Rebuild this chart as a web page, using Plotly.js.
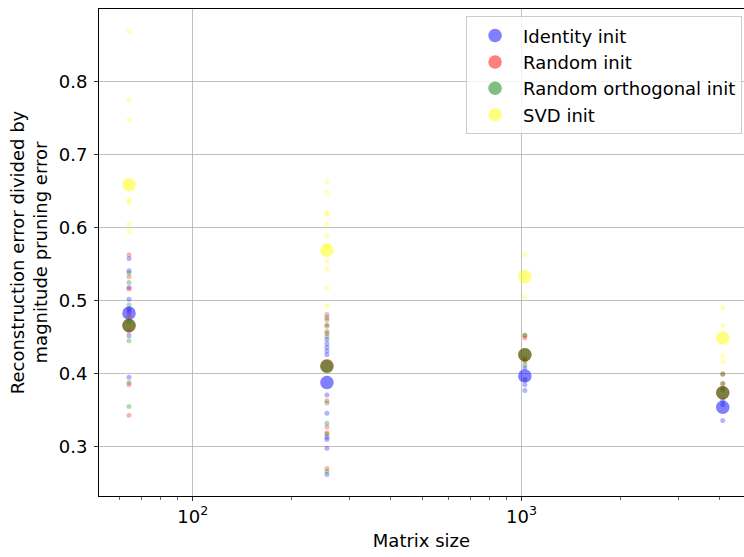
<!DOCTYPE html>
<html>
<head>
<meta charset="utf-8">
<script src="https://cdn.plot.ly/plotly-3.0.1.min.js"></script>
<style>html,body{margin:0;padding:0;background:#fff;}#chart{width:744px;height:557px;}</style>
</head>
<body>
<div id="chart"></div>
<script>
// Matrix sizes (x positions)
const sizes = [64, 256, 1024, 4096];
const seriesNames = ["Identity init", "Random init", "Random orthogonal init", "SVD init"];

// Individual runs per matrix size
const identityRuns = [
  [0.558, 0.541, 0.518, 0.502, 0.489, 0.485, 0.452, 0.395],
  [0.447, 0.441, 0.436, 0.431, 0.426, 0.371, 0.346, 0.313, 0.310, 0.298, 0.262],
  [0.408, 0.392, 0.385, 0.377],
  [0.364, 0.358, 0.336]
];
const randomRuns = [
  [0.563, 0.533, 0.516, 0.479, 0.458, 0.385, 0.343],
  [0.481, 0.474, 0.465, 0.455, 0.363, 0.327, 0.319, 0.270],
  [0.452, 0.449, 0.421, 0.417],
  [0.400, 0.386, 0.380]
];
const orthogonalRuns = [
  [0.538, 0.525, 0.494, 0.472, 0.445, 0.388, 0.355],
  [0.477, 0.467, 0.458, 0.451, 0.360, 0.332, 0.317, 0.266],
  [0.453, 0.419, 0.412],
  [0.399, 0.387, 0.378]
];
const svdRuns = [
  [0.869, 0.775, 0.748, 0.638, 0.634, 0.605, 0.595],
  [0.663, 0.648, 0.621, 0.618, 0.605, 0.589, 0.576, 0.555, 0.543, 0.517, 0.493],
  [0.563, 0.505],
  [0.490, 0.466, 0.425, 0.416]
];

// Mean values per matrix size (large markers)
const identityMean = [0.483, 0.388, 0.397, 0.354];
const randomMean = [0.466, 0.411, 0.426, 0.374];
const orthogonalMean = [0.466, 0.410, 0.426, 0.374];
const svdMean = [0.659, 0.569, 0.533, 0.449];

// Tick labels
const xTickVals = [100, 1000];
const xTickText = ["10<sup>2</sup>", "10<sup>3</sup>"];
const xMinorVals = [60, 70, 80, 90, 200, 300, 400, 500, 600, 700, 800, 900, 2000, 3000, 4000];
const yTickVals = [0.3, 0.4, 0.5, 0.6, 0.7, 0.8];

const runsList = [identityRuns, randomRuns, orthogonalRuns, svdRuns];
const meanList = [identityMean, randomMean, orthogonalMean, svdMean];
const colors = ["rgb(0,0,255)", "rgb(255,0,0)", "rgb(0,128,0)", "rgb(255,255,0)"];

const traces = [];
for (let s = 0; s < seriesNames.length; s++) {
  const xs = [], ys = [];
  runsList[s].forEach((vals, i) => vals.forEach(v => { xs.push(sizes[i]); ys.push(v); }));
  traces.push({
    type: "scatter", mode: "markers", x: xs, y: ys,
    legendgroup: "g" + s, showlegend: false, hoverinfo: "skip",
    marker: {color: colors[s], opacity: 0.3, size: 5, line: {width: 0}}
  });
  traces.push({
    type: "scatter", mode: "markers", x: sizes, y: meanList[s],
    name: seriesNames[s], legendgroup: "g" + s, showlegend: true,
    marker: {color: colors[s], opacity: 0.5, size: 13.5, line: {width: 0}}
  });
}

const font = {family: "DejaVu Sans, sans-serif", size: 18, color: "#000"};
const layout = {
  width: 744, height: 557,
  margin: {l: 98.5, r: 0, t: 9, b: 61, pad: 0},
  paper_bgcolor: "#fff", plot_bgcolor: "#fff",
  font: font,
  showlegend: true,
  xaxis: {
    type: "log",
    range: [1.7149, 3.677],
    tickmode: "array", tickvals: xTickVals, ticktext: xTickText,
    ticks: "outside", ticklen: 4, tickwidth: 0.8, tickcolor: "#000",
    showgrid: true, gridcolor: "#b0b0b0", gridwidth: 0.8,
    zeroline: false,
    showline: true, linecolor: "#000", linewidth: 1, mirror: true,
    minor: {tickmode: "array", tickvals: xMinorVals, ticks: "outside", ticklen: 2.5, tickwidth: 0.6, tickcolor: "#000", showgrid: false},
    tickfont: font,
    title: {text: "Matrix size", font: font, standoff: 8},
    automargin: false
  },
  yaxis: {
    range: [0.2325, 0.8996],
    tickmode: "array", tickvals: yTickVals, tickformat: ".1f",
    ticks: "outside", ticklen: 4, tickwidth: 0.8, tickcolor: "#000",
    ticklabelstandoff: 3,
    showgrid: true, gridcolor: "#b0b0b0", gridwidth: 0.8,
    zeroline: false,
    showline: true, linecolor: "#000", linewidth: 1, mirror: false,
    tickfont: font,
    title: {text: "Reconstruction error divided by<br>magnitude pruning error", font: font, standoff: 6},
    automargin: false
  },
  legend: {
    x: 0.997, xanchor: "right", y: 0.985, yanchor: "top",
    bgcolor: "rgba(255,255,255,0.8)", bordercolor: "#cccccc", borderwidth: 1,
    font: font, tracegroupgap: 0, itemwidth: 46
  }
};

Plotly.newPlot("chart", traces, layout, {staticPlot: true, displayModeBar: false});
</script>
</body>
</html>
